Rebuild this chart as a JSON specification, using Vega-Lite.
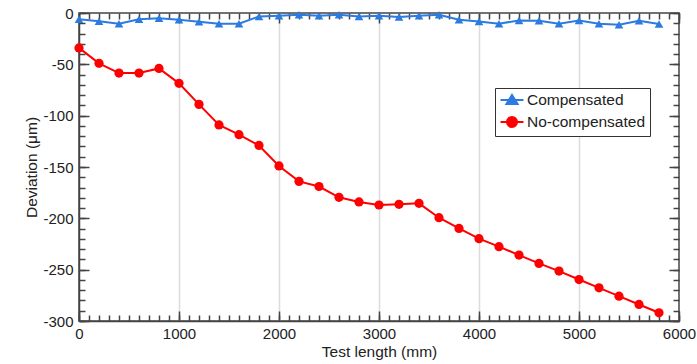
{
  "$schema": "https://vega.github.io/schema/vega-lite/v6.json",
  "width": 600,
  "height": 308,
  "autosize": {"type": "none"},
  "padding": {"left": 79, "top": 13, "right": 18, "bottom": 43},
  "background": "white",
  "config": {"view": {"stroke": "#444", "strokeWidth": 1.5}, "font": "Liberation Sans"},
  "datasets": {
    "d": [
      {"len": 0, "dev": -6, "series": "Compensated"},
      {"len": 200, "dev": -8, "series": "Compensated"},
      {"len": 400, "dev": -10.4, "series": "Compensated"},
      {"len": 600, "dev": -6, "series": "Compensated"},
      {"len": 800, "dev": -5, "series": "Compensated"},
      {"len": 1000, "dev": -6.5, "series": "Compensated"},
      {"len": 1200, "dev": -8.5, "series": "Compensated"},
      {"len": 1400, "dev": -10.4, "series": "Compensated"},
      {"len": 1600, "dev": -10.4, "series": "Compensated"},
      {"len": 1800, "dev": -3.3, "series": "Compensated"},
      {"len": 2000, "dev": -2.6, "series": "Compensated"},
      {"len": 2200, "dev": -1.7, "series": "Compensated"},
      {"len": 2400, "dev": -2.6, "series": "Compensated"},
      {"len": 2600, "dev": -1.7, "series": "Compensated"},
      {"len": 2800, "dev": -3.3, "series": "Compensated"},
      {"len": 3000, "dev": -2.6, "series": "Compensated"},
      {"len": 3200, "dev": -3.9, "series": "Compensated"},
      {"len": 3400, "dev": -2.6, "series": "Compensated"},
      {"len": 3600, "dev": -1.7, "series": "Compensated"},
      {"len": 3800, "dev": -6.5, "series": "Compensated"},
      {"len": 4000, "dev": -8.2, "series": "Compensated"},
      {"len": 4200, "dev": -10.4, "series": "Compensated"},
      {"len": 4400, "dev": -7.2, "series": "Compensated"},
      {"len": 4600, "dev": -7.5, "series": "Compensated"},
      {"len": 4800, "dev": -10.4, "series": "Compensated"},
      {"len": 5000, "dev": -7.2, "series": "Compensated"},
      {"len": 5200, "dev": -10.4, "series": "Compensated"},
      {"len": 5400, "dev": -11.4, "series": "Compensated"},
      {"len": 5600, "dev": -7.5, "series": "Compensated"},
      {"len": 5800, "dev": -10.7, "series": "Compensated"},
      {"len": 0, "dev": -34, "series": "No-compensated"},
      {"len": 200, "dev": -49, "series": "No-compensated"},
      {"len": 400, "dev": -58.5, "series": "No-compensated"},
      {"len": 600, "dev": -58.5, "series": "No-compensated"},
      {"len": 800, "dev": -54, "series": "No-compensated"},
      {"len": 1000, "dev": -68.5, "series": "No-compensated"},
      {"len": 1200, "dev": -89, "series": "No-compensated"},
      {"len": 1400, "dev": -109, "series": "No-compensated"},
      {"len": 1600, "dev": -118.5, "series": "No-compensated"},
      {"len": 1800, "dev": -129, "series": "No-compensated"},
      {"len": 2000, "dev": -149, "series": "No-compensated"},
      {"len": 2200, "dev": -164, "series": "No-compensated"},
      {"len": 2400, "dev": -169, "series": "No-compensated"},
      {"len": 2600, "dev": -179.5, "series": "No-compensated"},
      {"len": 2800, "dev": -184, "series": "No-compensated"},
      {"len": 3000, "dev": -187, "series": "No-compensated"},
      {"len": 3200, "dev": -186.3, "series": "No-compensated"},
      {"len": 3400, "dev": -185.4, "series": "No-compensated"},
      {"len": 3600, "dev": -199.4, "series": "No-compensated"},
      {"len": 3800, "dev": -209.8, "series": "No-compensated"},
      {"len": 4000, "dev": -219.8, "series": "No-compensated"},
      {"len": 4200, "dev": -227.6, "series": "No-compensated"},
      {"len": 4400, "dev": -235.8, "series": "No-compensated"},
      {"len": 4600, "dev": -243.9, "series": "No-compensated"},
      {"len": 4800, "dev": -251.4, "series": "No-compensated"},
      {"len": 5000, "dev": -259.6, "series": "No-compensated"},
      {"len": 5200, "dev": -267.7, "series": "No-compensated"},
      {"len": 5400, "dev": -275.8, "series": "No-compensated"},
      {"len": 5600, "dev": -283.9, "series": "No-compensated"},
      {"len": 5800, "dev": -292, "series": "No-compensated"}
    ]
  },
  "data": {"name": "d"},
  "layer": [
    {
      "mark": {"type": "point", "opacity": 0},
      "encoding": {
        "x": {
          "field": "len", "type": "quantitative",
          "scale": {"domain": [0, 6000], "nice": false, "zero": false},
          "axis": {
            "orient": "bottom", "offset": -6,
            "values": [0,100,200,300,400,500,600,700,800,900,1000,1100,1200,1300,1400,1500,1600,1700,1800,1900,2000,2100,2200,2300,2400,2500,2600,2700,2800,2900,3000,3100,3200,3300,3400,3500,3600,3700,3800,3900,4000,4100,4200,4300,4400,4500,4600,4700,4800,4900,5000,5100,5200,5300,5400,5500,5600,5700,5800,5900,6000],
            "labels": true, "labelOpacity": 0, "labelFontSize": 1, "title": " ", "titleOpacity": 0, "domain": false, "grid": false,
            "ticks": true, "tickColor": "#444", "tickWidth": 1.5, "tickSize": 6
          }
        },
        "y": {
          "field": "dev", "type": "quantitative",
          "scale": {"domain": [-300, 0], "nice": false, "zero": false},
          "axis": {
            "orient": "left", "offset": -6,
            "values": [-300,-290,-280,-270,-260,-250,-240,-230,-220,-210,-200,-190,-180,-170,-160,-150,-140,-130,-120,-110,-100,-90,-80,-70,-60,-50,-40,-30,-20,-10,0],
            "labels": true, "labelOpacity": 0, "labelFontSize": 1, "title": " ", "titleOpacity": 0, "domain": false, "grid": false,
            "ticks": true, "tickColor": "#444", "tickWidth": 1.5, "tickSize": 6
          }
        }
      }
    },
    {
      "mark": {"type": "point", "opacity": 0},
      "encoding": {
        "x": {
          "field": "len", "type": "quantitative",
          "scale": {"domain": [0, 6000], "nice": false, "zero": false},
          "axis": {
            "orient": "top", "offset": -6,
            "values": [0,100,200,300,400,500,600,700,800,900,1000,1100,1200,1300,1400,1500,1600,1700,1800,1900,2000,2100,2200,2300,2400,2500,2600,2700,2800,2900,3000,3100,3200,3300,3400,3500,3600,3700,3800,3900,4000,4100,4200,4300,4400,4500,4600,4700,4800,4900,5000,5100,5200,5300,5400,5500,5600,5700,5800,5900,6000],
            "labels": true, "labelOpacity": 0, "labelFontSize": 1, "title": " ", "titleOpacity": 0, "domain": false, "grid": false,
            "ticks": true, "tickColor": "#444", "tickWidth": 1.5, "tickSize": 6
          }
        },
        "y": {
          "field": "dev", "type": "quantitative",
          "scale": {"domain": [-300, 0], "nice": false, "zero": false},
          "axis": {
            "orient": "right", "offset": -6,
            "values": [-300,-290,-280,-270,-260,-250,-240,-230,-220,-210,-200,-190,-180,-170,-160,-150,-140,-130,-120,-110,-100,-90,-80,-70,-60,-50,-40,-30,-20,-10,0],
            "labels": true, "labelOpacity": 0, "labelFontSize": 1, "title": " ", "titleOpacity": 0, "domain": false, "grid": false,
            "ticks": true, "tickColor": "#444", "tickWidth": 1.5, "tickSize": 6
          }
        }
      }
    },
    {
      "mark": {"type": "point", "opacity": 0},
      "encoding": {
        "x": {
          "field": "len", "type": "quantitative",
          "scale": {"domain": [0, 6000], "nice": false, "zero": false},
          "axis": {
            "orient": "bottom", "offset": -10,
            "values": [0, 1000, 2000, 3000, 4000, 5000, 6000],
            "labels": true, "labelOpacity": 0, "labelFontSize": 1, "title": " ", "titleOpacity": 0, "domain": false, "grid": false,
            "ticks": true, "tickColor": "#444", "tickWidth": 1.5, "tickSize": 10
          }
        },
        "y": {
          "field": "dev", "type": "quantitative",
          "scale": {"domain": [-300, 0], "nice": false, "zero": false},
          "axis": {
            "orient": "left", "offset": -10,
            "values": [-300, -250, -200, -150, -100, -50, 0],
            "labels": true, "labelOpacity": 0, "labelFontSize": 1, "title": " ", "titleOpacity": 0, "domain": false, "grid": false,
            "ticks": true, "tickColor": "#444", "tickWidth": 1.5, "tickSize": 10
          }
        }
      }
    },
    {
      "mark": {"type": "point", "opacity": 0},
      "encoding": {
        "x": {
          "field": "len", "type": "quantitative",
          "scale": {"domain": [0, 6000], "nice": false, "zero": false},
          "axis": {
            "orient": "top", "offset": -10,
            "values": [0, 1000, 2000, 3000, 4000, 5000, 6000],
            "labels": true, "labelOpacity": 0, "labelFontSize": 1, "title": " ", "titleOpacity": 0, "domain": false, "grid": false,
            "ticks": true, "tickColor": "#444", "tickWidth": 1.5, "tickSize": 10
          }
        },
        "y": {
          "field": "dev", "type": "quantitative",
          "scale": {"domain": [-300, 0], "nice": false, "zero": false},
          "axis": {
            "orient": "right", "offset": -10,
            "values": [-300, -250, -200, -150, -100, -50, 0],
            "labels": true, "labelOpacity": 0, "labelFontSize": 1, "title": " ", "titleOpacity": 0, "domain": false, "grid": false,
            "ticks": true, "tickColor": "#444", "tickWidth": 1.5, "tickSize": 10
          }
        }
      }
    },
    {
      "layer": [
        {
          "mark": {"type": "line", "strokeWidth": 2},
          "encoding": {
            "color": {
              "field": "series", "type": "nominal",
              "scale": {"domain": ["Compensated", "No-compensated"], "range": ["#2b7be0", "#ff0000"]},
              "legend": {
                "title": null, "orient": "none", "legendX": 416, "legendY": 75,
                "strokeColor": "#333", "fillColor": "white", "padding": 4,
                "symbolSize": 196, "symbolOffset": 5, "labelOffset": 7, "rowPadding": 3,
                "labelFontSize": 15.5, "labelColor": "#222", "labelFont": "Liberation Sans",
                "symbolStrokeWidth": 2,
                "encode": {"symbols": {"update": {
                  "shape": {"signal": "datum.value === 'Compensated' ? 'M-1.64,0L1.64,0M0,-0.72L0.8,0.58L-0.8,0.58Z' : 'M-1.64,0L1.64,0M-0.72,0A0.72,0.72,0,1,0,0.72,0A0.72,0.72,0,1,0,-0.72,0Z'"},
                  "stroke": {"signal": "datum.value === 'Compensated' ? '#2b7be0' : '#ff0000'"},
                  "fill": {"signal": "datum.value === 'Compensated' ? '#2b7be0' : '#ff0000'"},
                  "strokeWidth": {"value": 2}
                }}}
              }
            }
          }
        },
        {
          "transform": [{"filter": "datum.series === 'Compensated'"}],
          "mark": {"type": "point", "filled": true, "shape": "triangle-up", "size": 75, "opacity": 1, "color": "#2b7be0"},
          "encoding": {}
        },
        {
          "transform": [{"filter": "datum.series === 'No-compensated'"}],
          "mark": {"type": "point", "filled": true, "shape": "circle", "size": 85, "opacity": 1, "color": "#ff0000"},
          "encoding": {}
        }
      ],
      "encoding": {
        "x": {
          "field": "len", "type": "quantitative",
          "scale": {"domain": [0, 6000], "nice": false, "zero": false},
          "axis": {
            "orient": "bottom",
            "values": [0, 1000, 2000, 3000, 4000, 5000, 6000],
            "labelExpr": "'' + datum.value",
            "ticks": false,
            "domain": true, "domainColor": "#444", "domainWidth": 1.5,
            "grid": true, "gridColor": "#dcdcdc", "gridWidth": 1.5,
            "gridOpacity": {"condition": {"test": "datum.value > 0 && datum.value < 6000", "value": 1}, "value": 0},
            "labelFontSize": 15, "labelColor": "#222", "labelPadding": 5,
            "labelFlush": false, "labelOverlap": false,
            "title": "Test length (mm)", "titleFontSize": 15.5, "titleFontWeight": "normal",
            "titleColor": "#222", "titlePadding": 3
          }
        },
        "y": {
          "field": "dev", "type": "quantitative",
          "scale": {"domain": [-300, 0], "nice": false, "zero": false},
          "axis": {
            "orient": "left",
            "values": [-300, -250, -200, -150, -100, -50, 0],
            "labelExpr": "'' + datum.value",
            "ticks": false,
            "domain": true, "domainColor": "#444", "domainWidth": 1.5,
            "grid": false,
            "labelFontSize": 15, "labelColor": "#222", "labelPadding": 6,
            "labelFlush": false, "labelOverlap": false,
            "title": "Deviation (μm)", "titleFontSize": 15.5, "titleFontWeight": "normal",
            "titleColor": "#222", "titlePadding": 3
          }
        }
      }
    }
  ],
  "resolve": {"scale": {"x": "independent", "y": "independent"}, "axis": {"x": "independent", "y": "independent"}}
}
